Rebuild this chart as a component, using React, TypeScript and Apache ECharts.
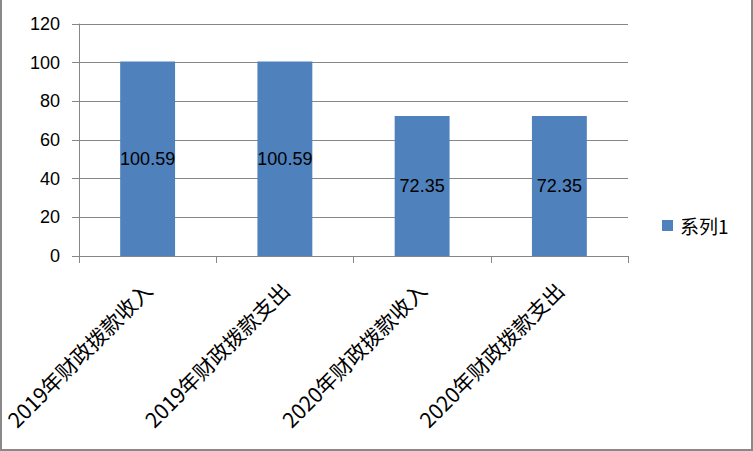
import React, { useEffect, useRef } from "react";
import * as echarts from "echarts";

const categories = ["2019年财政拨款收入", "2019年财政拨款支出", "2020年财政拨款收入", "2020年财政拨款支出"];
const seriesName = "系列1";
const values = [100.59, 100.59, 72.35, 72.35];
const yMin = 0;
const yMax = 120;
const yStep = 20;

export default function App() {
  const ref = useRef<HTMLDivElement>(null);
  useEffect(() => {
    const chart = echarts.init(ref.current!, null, { renderer: "svg" });
    const gray = "#868686";
    chart.setOption({
      animation: false,
      backgroundColor: "#ffffff",
      grid: { left: 79, right: 125, top: 24, bottom: 195, containLabel: false },
      legend: {
        show: true,
        data: [seriesName],
        left: 662,
        top: 216,
        padding: 0,
        orient: "vertical",
        icon: "rect",
        itemWidth: 11,
        itemHeight: 11,
        itemGap: 6,
        textStyle: { fontSize: 19, color: "#000", fontFamily: "Noto Sans CJK SC", padding: [0, 0, 0, 2] },
      },
      xAxis: {
        type: "category",
        data: categories,
        axisLine: { show: true, lineStyle: { color: gray, width: 1 } },
        axisTick: { show: true, length: 7, alignWithLabel: false, lineStyle: { color: gray } },
        axisLabel: {
          rotate: 45,
          margin: 30,
          interval: 0,
          fontSize: 21,
          color: "#000",
          fontFamily: "Noto Sans CJK SC",
        },
        splitLine: { show: false },
      },
      yAxis: {
        type: "value",
        min: yMin,
        max: yMax,
        interval: yStep,
        axisLine: { show: true, lineStyle: { color: gray, width: 1 } },
        axisTick: { show: true, length: 7, lineStyle: { color: gray } },
        axisLabel: { margin: 19, fontSize: 18, color: "#000", fontFamily: "Liberation Sans" },
        splitLine: { show: true, lineStyle: { color: gray, width: 1 } },
      },
      series: [
        {
          name: seriesName,
          type: "bar",
          data: values,
          barWidth: "40%",
          itemStyle: { color: "#4F81BD" },
          label: {
            show: true,
            position: "inside",
            color: "#000",
            fontSize: 18,
            fontFamily: "Liberation Sans",
          },
        },
      ],
      graphic: [
        {
          type: "rect",
          shape: { x: 1, y: -1, width: 751, height: 451 },
          style: { fill: "none", stroke: "#898989", lineWidth: 2 },
          silent: true,
          z: 100,
        },
      ],
    });
    return () => chart.dispose();
  }, []);
  return (
    <div
      ref={ref}
      style={{ position: "fixed", left: 0, top: 0, width: 753, height: 451 }}
    />
  );
}
